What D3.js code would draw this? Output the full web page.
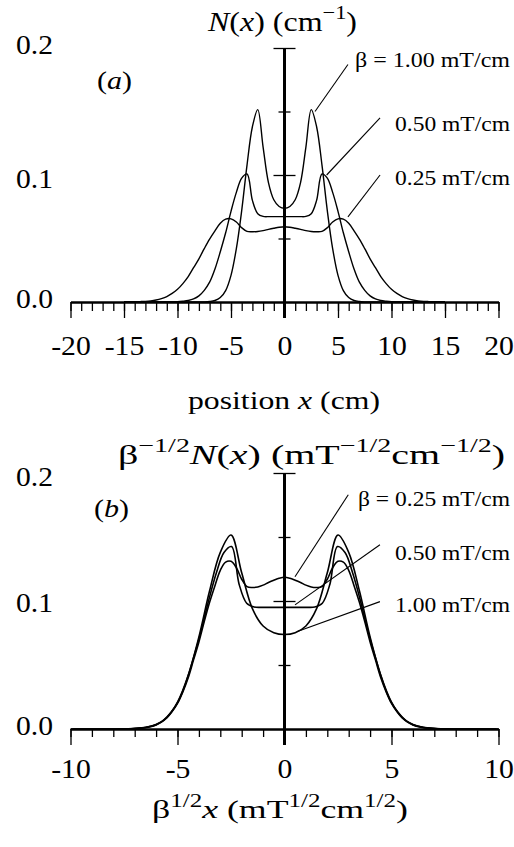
<!DOCTYPE html>
<html>
<head>
<meta charset="utf-8">
<script src="https://cdn.jsdelivr.net/npm/d3@7"></script>
<style>
  body { margin: 0; background: #fff; }
  svg { display: block; font-family: 'Liberation Serif', 'Times New Roman', serif; }
</style>
</head>
<body>
<div id="chart"></div>
<script>
// sample positions x (cm) for the measured profiles
const positions = [-15, -14.5, -14, -13.5, -13, -12.5, -12, -11.5, -11, -10.5, -10, -9.5, -9, -8.5, -8, -7.5, -7, -6.5, -6, -5.5, -5, -4.5, -4, -3.5, -3, -2.5, -2, -1.5, -1, -0.5,
  0, 0.5, 1, 1.5, 2, 2.5, 3, 3.5, 4, 4.5, 5, 5.5, 6, 6.5, 7, 7.5, 8, 8.5, 9, 9.5, 10, 10.5, 11, 11.5, 12, 12.5, 13, 13.5, 14, 14.5, 15]

// N(x) in cm^-1
const n100 = [0, 0, 0, 0, 0, 0, 0, 0, 0, 0, 0, 0, 0, 0, 0, 0.0001, 0.0004, 0.0012, 0.0035, 0.009, 0.021, 0.042, 0.072, 0.108, 0.138, 0.1515, 0.122, 0.094, 0.0805, 0.0752,
  0.0738, 0.0752, 0.0805, 0.094, 0.122, 0.1515, 0.138, 0.108, 0.072, 0.042, 0.021, 0.009, 0.0035, 0.0012, 0.0004, 0.0001, 0, 0, 0, 0, 0, 0, 0, 0, 0, 0, 0, 0, 0, 0, 0]
const n050 = [0, 0, 0, 0, 0, 0, 0, 0, 0, 0.0001, 0.0002, 0.0006, 0.0012, 0.0024, 0.0048, 0.0092, 0.0156, 0.026, 0.0396, 0.0545, 0.0714, 0.0863, 0.0975, 0.1008, 0.080, 0.0695, 0.0674, 0.0672, 0.0672, 0.0672,
  0.0672, 0.0672, 0.0672, 0.0672, 0.0674, 0.0695, 0.080, 0.1008, 0.0975, 0.0863, 0.0714, 0.0545, 0.0396, 0.026, 0.0156, 0.0092, 0.0048, 0.0024, 0.0012, 0.0006, 0.0002, 0.0001, 0, 0, 0, 0, 0, 0, 0, 0, 0]
const n025 = [0, 0.0001, 0.00015, 0.0003, 0.0005, 0.0009, 0.0016, 0.0027, 0.0043, 0.0068, 0.010, 0.0145, 0.020, 0.027, 0.034, 0.042, 0.0495, 0.056, 0.062, 0.0652, 0.0655, 0.063, 0.0585, 0.0556, 0.0553, 0.0555, 0.0562, 0.0572, 0.0581, 0.0589,
  0.0593, 0.0589, 0.0581, 0.0572, 0.0562, 0.0555, 0.0553, 0.0556, 0.0585, 0.063, 0.0655, 0.0652, 0.062, 0.056, 0.0495, 0.042, 0.034, 0.027, 0.020, 0.0145, 0.010, 0.0068, 0.0043, 0.0027, 0.0016, 0.0009, 0.0005, 0.0003, 0.00015, 0.0001, 0]

const betas = [1.00, 0.50, 0.25]
const profiles = [n100, n050, n025]

const xTicksTop = [-20, -15, -10, -5, 0, 5, 10, 15, 20]
const xTicksBottom = [-10, -5, 0, 5, 10]
const yTicks = [0.0, 0.1, 0.2]

// leader lines and labels, in data units of each panel
const labelsTop = [
  { text: 'β = 1.00 mT/cm', from: [2.85, 0.150], to: [5.93, 0.187], at: 0.185, w: 155 },
  { text: '0.50 mT/cm', from: [3.94, 0.100], to: [8.93, 0.145], at: 0.135, w: 115 },
  { text: '0.25 mT/cm', from: [5.93, 0.067], to: [8.93, 0.100], at: 0.092, w: 115 }
]
const labelsBottom = [
  { text: 'β = 0.25 mT/cm', from: [0.49, 0.119], to: [2.98, 0.183], at: 0.174, w: 152 },
  { text: '0.50 mT/cm', from: [0.49, 0.097], to: [4.46, 0.144], at: 0.132, w: 115 },
  { text: '1.00 mT/cm', from: [0.57, 0.076], to: [4.46, 0.0995], at: 0.0914, w: 115 }
]

const W = 514, H = 847
const TICK_STRETCH = 1.1

const svg = d3.select('#chart').append('svg')
  .attr('width', W).attr('height', H)
  .attr('viewBox', `0 0 ${W} ${H}`)

svg.append('rect').attr('width', W).attr('height', H).attr('fill', '#fff')

// text squeezed/stretched to the width it has in the original figure
function fitText(g, x, y, anchor, size, width) {
  const t = g.append('text')
    .attr('x', x).attr('y', y)
    .attr('text-anchor', anchor)
    .attr('font-size', size)
    .attr('fill', '#000')
  if (width) t.attr('textLength', width).attr('lengthAdjust', 'spacingAndGlyphs')
  return t
}

function rich(t, parts, size) {
  let shift = 0
  parts.forEach(p => {
    const s = t.append('tspan').text(p.t)
    const target = p.sup ? -size * 0.42 : 0
    if (target - shift !== 0) s.attr('dy', target - shift)
    shift = target
    if (p.sup) s.attr('font-size', size * 0.7)
    if (p.i) s.attr('font-style', 'italic')
  })
  return t
}

function panel(opts) {
  const x = d3.scaleLinear().domain(opts.xDomain).range([70.5, 498.5])
  const y = d3.scaleLinear().domain([0, 0.2]).range([opts.y0, opts.yTop])
  const g = svg.append('g')

  // curves
  const line = d3.line()
    .x(d => x(d[0]))
    .y(d => y(d[1]))
    .curve(d3.curveCatmullRom.alpha(0.5))

  profiles.forEach((vals, i) => {
    const b = Math.sqrt(betas[i])
    const pts = positions.map((p, j) => opts.scaled ? [p * b, vals[j] / b] : [p, vals[j]])
      .filter(d => d[0] >= opts.xDomain[0] && d[0] <= opts.xDomain[1])
    g.append('path')
      .datum(pts)
      .attr('d', line)
      .attr('fill', 'none')
      .attr('stroke', '#000')
      .attr('stroke-width', opts.curveWidth)
  })

  // x axis: minor + major ticks
  g.append('g')
    .attr('transform', `translate(0,${opts.y0})`)
    .call(d3.axisBottom(x).tickValues(d3.range(opts.xDomain[0], opts.xDomain[1] + 1, 1)).tickSize(opts.minorLen).tickFormat('').tickSizeOuter(0))
    .call(a => a.select('.domain').remove())
    .call(a => a.selectAll('line').attr('stroke-width', 1.3))

  const xa = g.append('g')
    .attr('transform', `translate(0,${opts.y0})`)
    .call(d3.axisBottom(x).tickValues(opts.xTicks).tickSize(16).tickSizeOuter(0).tickFormat(d3.format('d')))
  xa.select('.domain').attr('stroke-width', 2.6)
  xa.selectAll('line').attr('stroke-width', 1.3)
  xa.selectAll('text')
    .attr('y', 0).attr('dy', 0)
    .attr('transform', `translate(0,${opts.tickLabelY - opts.y0}) scale(${TICK_STRETCH},1)`)
    .attr('font-size', 27)
    .attr('font-family', "'Liberation Serif', serif")
    .text(d => String(d).replace('−', '-'))

  // y axis in the middle
  const ya = g.append('g')
    .attr('transform', `translate(${x(0)},0)`)
    .call(d3.axisLeft(y).tickValues([0.05, 0.1, 0.15, 0.2]).tickFormat('').tickSizeOuter(0))
  ya.select('.domain').attr('stroke-width', 3).attr('d', `M0,${opts.y0 + 16}V${y(0.2)}`)
  ya.selectAll('.tick line')
    .attr('x1', d => (d === 0.1 || d === 0.2) ? 11 : 6)
    .attr('x2', d => (d === 0.1 || d === 0.2) ? -11 : -6)
    .attr('stroke-width', 1.3)

  // y tick labels on the left
  yTicks.forEach((t, i) => {
    fitText(g, 53, opts.yLabelBase[i], 'end', 27, 37).text(t.toFixed(1))
  })

  // leaders and labels
  opts.labels.forEach(l => {
    g.append('line')
      .attr('x1', x(l.from[0])).attr('y1', y(l.from[1]))
      .attr('x2', x(l.to[0])).attr('y2', y(l.to[1]))
      .attr('stroke', '#000').attr('stroke-width', 1.1)
    fitText(g, 510, y(l.at), 'end', 22, l.w).text(l.text)
  })

  // panel tag
  rich(fitText(g, opts.tag[0], opts.tag[1], 'start', 26, 35), [{ t: '(' }, { t: opts.tagLetter, i: true }, { t: ')' }], 26)

  // title and axis label
  rich(fitText(g, opts.titleX, opts.titleY, 'middle', 28, opts.titleW), opts.title, 28)
  rich(fitText(g, opts.xLabelX, opts.xLabelY, 'middle', 26, opts.xLabelW), opts.xLabel, 26)
}

panel({
  xDomain: [-20, 20], xTicks: xTicksTop, y0: 302, yTop: 48, scaled: false,
  minorLen: 9, tickLabelY: 355, curveWidth: 1.4,
  yLabelBase: [308, 188, 54],
  labels: labelsTop, tag: [97, 89], tagLetter: 'a',
  titleX: 282.5, titleY: 31, titleW: 149,
  title: [{ t: 'N', i: true }, { t: '(' }, { t: 'x', i: true }, { t: ') (cm' }, { t: '−1', sup: true }, { t: ')' }],
  xLabelX: 284, xLabelY: 409, xLabelW: 192,
  xLabel: [{ t: 'position ' }, { t: 'x', i: true }, { t: ' (cm)' }]
})

panel({
  xDomain: [-10, 10], xTicks: xTicksBottom, y0: 729, yTop: 473, scaled: true,
  minorLen: 8, tickLabelY: 778, curveWidth: 1.6,
  yLabelBase: [735, 612, 486],
  labels: labelsBottom, tag: [94, 517], tagLetter: 'b',
  titleX: 311.5, titleY: 464, titleW: 387,
  title: [{ t: 'β' }, { t: '−1/2', sup: true }, { t: 'N', i: true }, { t: '(' }, { t: 'x', i: true }, { t: ') (mT' }, { t: '−1/2', sup: true }, { t: 'cm' }, { t: '−1/2', sup: true }, { t: ')' }],
  xLabelX: 280, xLabelY: 818, xLabelW: 256,
  xLabel: [{ t: 'β' }, { t: '1/2', sup: true }, { t: 'x', i: true }, { t: ' (mT' }, { t: '1/2', sup: true }, { t: 'cm' }, { t: '1/2', sup: true }, { t: ')' }]
})
</script>
</body>
</html>
